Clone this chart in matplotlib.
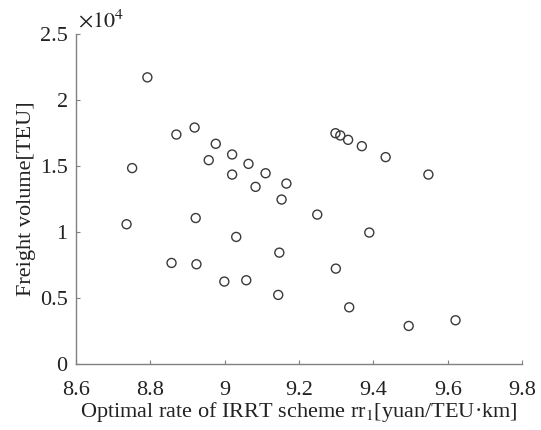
import matplotlib
matplotlib.use("Agg")
import matplotlib.pyplot as plt
from matplotlib.ticker import FuncFormatter

# optimal rate rr1 [yuan/TEU*km] and freight volume [TEU]
rate = [8.792, 8.751, 8.870, 8.919, 8.976, 8.957, 9.020, 9.020, 9.064, 9.110,
        9.083, 9.166, 9.153, 8.922,
        9.298, 9.311, 9.332, 9.369, 9.433, 9.548, 9.249, 9.389, 9.147, 9.299,
        9.144, 9.335, 9.495, 9.621,
        8.736, 8.857, 8.924, 9.031, 8.999, 9.058]
volume = [21700, 14830, 17370, 17900, 16670, 15430, 15860, 14340, 15150, 14440,
          13410, 13660, 12450, 11050,
          17470, 17300, 16970, 16490, 15660, 14340, 11310, 9950, 8430, 7220,
          5230, 4290, 2880, 3310,
          10580, 7650, 7550, 9620, 6240, 6340]

xticks = [8.6, 8.8, 9.0, 9.2, 9.4, 9.6, 9.8]
yticks = [0, 5000, 10000, 15000, 20000, 25000]

plt.rcParams["font.family"] = ["Liberation Serif", "DejaVu Serif"]
plt.rcParams["mathtext.fontset"] = "stix"

fig = plt.figure(figsize=(5.41, 4.30), dpi=100)
ax = fig.add_axes([0.1405, 0.1535, 0.8245, 0.768])

ax.scatter(rate, volume, s=42, facecolors="none", edgecolors="#3a3a3a", linewidths=1.0)

ax.set_xlim(8.6, 9.8)
ax.set_ylim(0, 25000)
ax.set_xticks(xticks)
ax.set_yticks(yticks)
ax.xaxis.set_major_formatter(FuncFormatter(lambda v, p: f"{v:g}"))
ax.yaxis.set_major_formatter(FuncFormatter(lambda v, p: f"{v / 1e4:g}"))

for s in ["top", "right"]:
    ax.spines[s].set_visible(False)
for s in ["left", "bottom"]:
    ax.spines[s].set_color("#808080")
    ax.spines[s].set_linewidth(1.0)
ax.tick_params(direction="in", length=3, color="#808080", labelsize=16,
               labelcolor="#222222")
ax.tick_params(axis="x", pad=12)
ax.tick_params(axis="y", pad=6)

ax.text(0.005, 1.003, r"$\times10^4$", transform=ax.transAxes, fontsize=16,
        color="#222222", ha="left", va="bottom")

ax.set_xlabel("Optimal rate of IRRT scheme rr$_1$[yuan/TEU·km]", fontsize=16,
              color="#222222", labelpad=0)
ax.set_ylabel("Freight volume[TEU]", fontsize=16, color="#222222", labelpad=3)

fig.savefig("out.png", dpi=100)
